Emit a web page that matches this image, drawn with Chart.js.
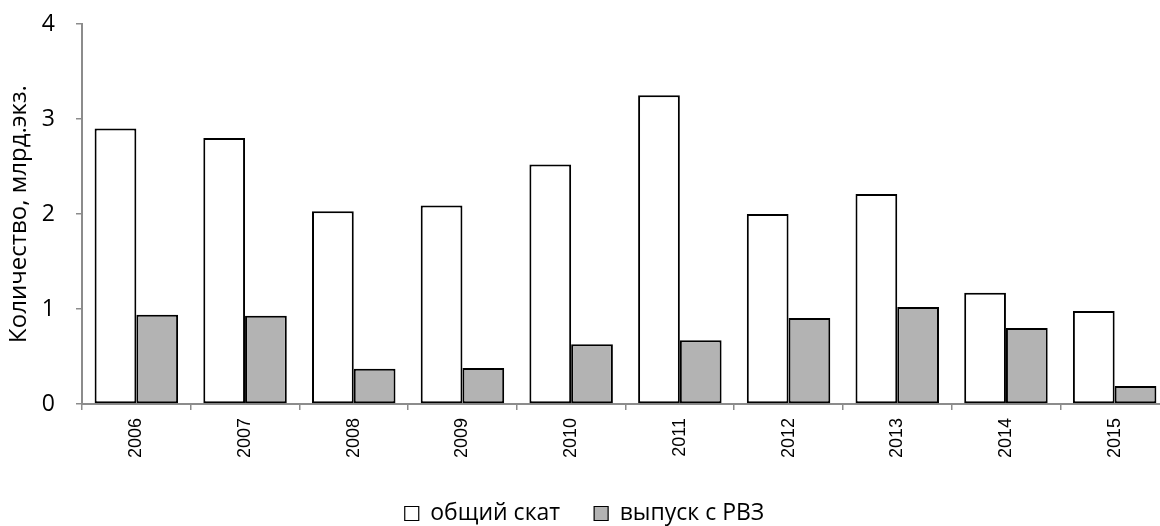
<!DOCTYPE html>
<html>
<head>
<meta charset="utf-8">
<script src="https://cdn.jsdelivr.net/npm/chart.js@4.4.1/dist/chart.umd.min.js"></script>
<style>
  html, body { margin: 0; padding: 0; background: #fff; overflow: hidden; }
  #wrap { width: 1170px; height: 526px; position: relative; }
</style>
</head>
<body>
<div id="wrap"><canvas id="c" width="1170" height="526"></canvas></div>
<script>
// Annual figures, billions of specimens
const years = ['2006', '2007', '2008', '2009', '2010', '2011', '2012', '2013', '2014', '2015'];
const totalRun = [2.90, 2.80, 2.03, 2.09, 2.52, 3.25, 2.00, 2.21, 1.17, 0.98];
const hatcheryRelease = [0.94, 0.93, 0.37, 0.38, 0.63, 0.67, 0.905, 1.02, 0.80, 0.19];
const yTicks = [0, 1, 2, 3, 4];

const seriesNames = ['общий скат', 'выпуск с РВЗ'];
const axisTitle = 'Количество, млрд.экз.';
const axisGray = '#8c8c8c';
const uiFont = 'Open Sans, Noto Sans, sans-serif';

// Legend items sit far apart horizontally, but the legend strip itself stays short
const legendHeightPlugin = {
  id: 'legendHeight',
  beforeLayout(chart) {
    const lg = chart.legend;
    if (lg && !lg._fixedFit) {
      const orig = lg.fit.bind(lg);
      lg.fit = function () { orig(); this.height = 58; };
      lg._fixedFit = true;
    }
  }
};

new Chart(document.getElementById('c'), {
  type: 'bar',
  data: {
    labels: years,
    datasets: [
      {
        label: seriesNames[0],
        data: totalRun,
        backgroundColor: '#ffffff',
        borderColor: '#000000',
        borderWidth: 2,
        borderSkipped: false,
        inflateAmount: 0,
        categoryPercentage: 0.768,
        barPercentage: 1.0
      },
      {
        label: seriesNames[1],
        data: hatcheryRelease,
        backgroundColor: '#b3b3b3',
        borderColor: '#000000',
        borderWidth: 2,
        borderSkipped: false,
        inflateAmount: 0,
        categoryPercentage: 0.768,
        barPercentage: 1.0
      }
    ]
  },
  plugins: [legendHeightPlugin],
  options: {
    responsive: false,
    animation: false,
    layout: { padding: { left: 0, right: 1, top: 24, bottom: 0 } },
    plugins: {
      tooltip: { enabled: false },
      legend: {
        position: 'bottom',
        labels: {
          color: '#000',
          font: { family: uiFont, size: 23 },
          boxWidth: 14,
          boxHeight: 14,
          padding: 34,
          generateLabels(chart) {
            return chart.data.datasets.map((ds, i) => ({
              text: ds.label,
              fillStyle: ds.backgroundColor,
              strokeStyle: '#000',
              lineWidth: 1.2,
              datasetIndex: i
            }));
          }
        }
      }
    },
    scales: {
      x: {
        grid: {
          offset: true,
          drawOnChartArea: false,
          drawTicks: true,
          tickLength: 6,
          color: axisGray,
          lineWidth: 1.5
        },
        border: { color: axisGray, width: 2 },
        ticks: {
          color: '#000',
          font: { family: 'Liberation Sans, Arial, sans-serif', size: 18 },
          minRotation: 90,
          maxRotation: 90,
          padding: 8,
          autoSkip: false
        },
        afterFit(scale) {
          scale.height = 64;
          scale.paddingLeft = 0;
          scale.paddingRight = 0;
        }
      },
      y: {
        min: 0,
        max: 4,
        afterBuildTicks(scale) { scale.ticks = yTicks.map(v => ({ value: v })); },
        grid: {
          drawOnChartArea: false,
          drawTicks: true,
          tickLength: 6,
          color: axisGray,
          lineWidth: 1.5
        },
        border: { color: axisGray, width: 2 },
        ticks: {
          color: '#000',
          font: { family: uiFont, size: 23 },
          padding: 21
        },
        title: {
          display: true,
          text: axisTitle,
          color: '#000',
          font: { family: uiFont, size: 24 },
          padding: { top: 5, bottom: 0 }
        },
        afterFit(scale) {
          scale.width = 82;
          scale.paddingTop = 0;
          scale.paddingBottom = 0;
        }
      }
    }
  }
});
</script>
</body>
</html>
